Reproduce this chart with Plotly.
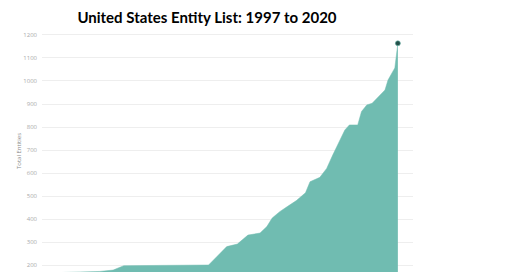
import plotly.graph_objects as go

# Fractional years and cumulative entity counts
years = [1997.0, 2000.8, 2001.7, 2002.4, 2008.0, 2009.2, 2009.9, 2010.6, 2011.4,
         2011.85, 2012.2, 2012.7, 2013.2, 2013.8, 2014.4, 2014.7, 2015.35, 2015.8,
         2016.2, 2016.7, 2017.0, 2017.3, 2017.85, 2018.1, 2018.45, 2018.8, 2019.3,
         2019.65, 2019.85, 2020.3, 2020.5]
totals = [165, 172, 178, 197, 200, 280, 291, 330, 339,
          367, 404, 432, 454, 480, 514, 562, 581, 620,
          678, 751, 787, 809, 809, 867, 896, 903, 939,
          961, 1004, 1057, 1164]
y_ticks = [200, 300, 400, 500, 600, 700, 800, 900, 1000, 1100, 1200]

fig = go.Figure()
fig.add_trace(go.Scatter(
    x=years, y=totals, mode="lines", fill="tozeroy",
    line=dict(color="#70BCB1", width=0.5), fillcolor="#70BCB1",
    hoverinfo="skip", showlegend=False))
fig.add_trace(go.Scatter(
    x=[years[-1]], y=[totals[-1]], mode="markers",
    marker=dict(color="#24504A", size=5, line=dict(color="#6fb8ad", width=0.6)),
    showlegend=False))

fig.update_layout(
    width=520, height=272,
    margin=dict(l=42, r=107, t=30, b=0),
    paper_bgcolor="white", plot_bgcolor="white",
    title=dict(text="<b>United States Entity List: 1997 to 2020</b>",
               font=dict(family="Lato", size=15, color="#000"),
               x=207/520, xanchor="center", xref="container",
               y=1-18/272, yanchor="middle", yref="container"),
    xaxis=dict(range=[1997.0, 2021.5], showticklabels=False, showgrid=False,
               zeroline=False, showline=False, ticks=""),
    yaxis=dict(range=[169.6, 1221.7], tickvals=y_ticks,
               tickfont=dict(family="Open Sans", size=6, color="#aaaaaa"),
               gridcolor="#eeeeee", gridwidth=1, zeroline=False, showline=False,
               ticks="", ticklabelstandoff=4,
               title=dict(text="Total Entities",
                          font=dict(family="Open Sans", size=6, color="#888888"),
                          standoff=1)),
    showlegend=False,
)

fig.write_html("out.html")
